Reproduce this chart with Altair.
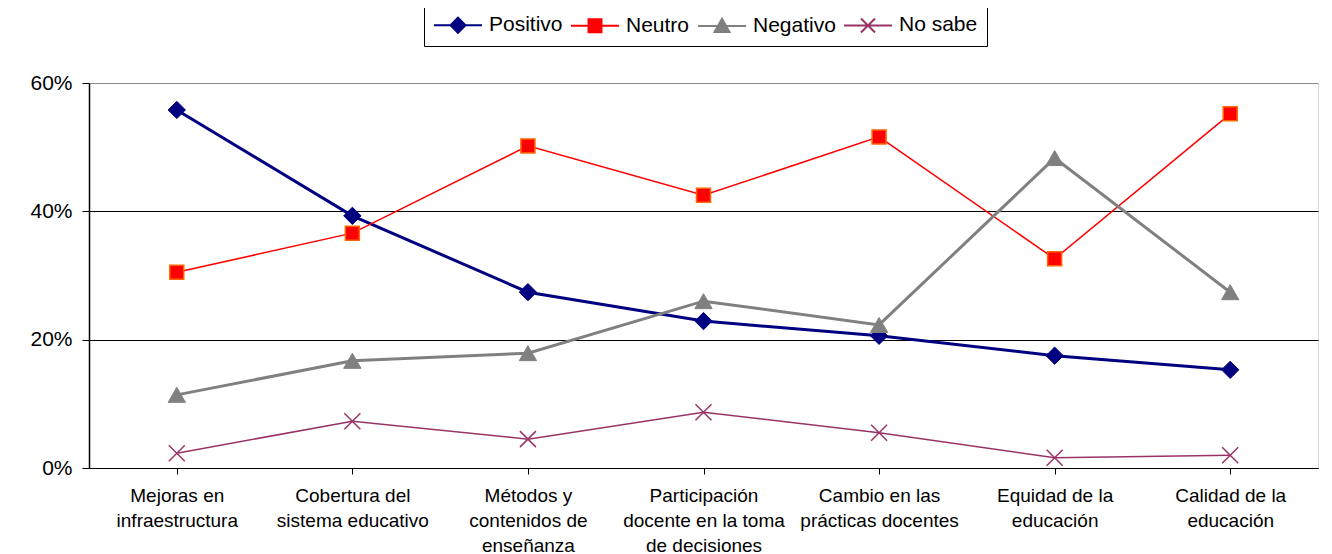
import altair as alt
import pandas as pd

# ---- data ----
categories = [
    "Mejoras en\ninfraestructura",
    "Cobertura del\nsistema educativo",
    "Métodos y\ncontenidos de\nenseñanza",
    "Participación\ndocente en la toma\nde decisiones",
    "Cambio en las\nprácticas docentes",
    "Equidad de la\neducación",
    "Calidad de la\neducación",
]
series_names = ["Positivo", "Neutro", "Negativo", "No sabe"]
positivo = [55.8, 39.3, 27.4, 22.9, 20.6, 17.5, 15.3]
neutro = [30.5, 36.6, 50.2, 42.5, 51.6, 32.6, 55.2]
negativo = [11.4, 16.7, 17.9, 26.0, 22.3, 48.3, 27.4]
no_sabe = [2.3, 7.3, 4.5, 8.7, 5.5, 1.6, 2.0]
y_ticks = [0, 0.2, 0.4, 0.6]

# ---- styles ----
line_colors = ["#000080", "#FF0000", "#808080", "#993366"]
line_widths = [3, 1.5, 3, 1.5]
marker_shapes = ["diamond", "square", "triangle-up", "M-1,-1L1,1M-1,1L1,-1"]
marker_sizes = [300, 196, 300, 256]
marker_fills = ["#000080", "#FF0000", "#808080", "transparent"]
marker_strokes = ["#000080", "#FF6600", "#808080", "#993366"]
marker_stroke_widths = [1, 1.5, 1, 1.5]

# legend symbols: line + marker as custom paths (unit = sqrt(size)/2 = 11 px)
L = 48 / 11.0
cx = -1 + L / 2


def f(v):
    return f"{v:.3f}"


line_part = f"M-1,0L{f(-1 + L)},0"
d = 0.68
sq = 0.59
legend_paths = [
    line_part + f"M{f(cx - d)},0L{f(cx)},{f(-d)}L{f(cx + d)},0L{f(cx)},{f(d)}Z",
    line_part + f"M{f(cx - sq)},{f(-sq)}L{f(cx + sq)},{f(-sq)}L{f(cx + sq)},{f(sq)}L{f(cx - sq)},{f(sq)}Z",
    line_part + f"M{f(cx)},-0.66L{f(cx + d)},0.54L{f(cx - d)},0.54Z",
    line_part + f"M{f(cx - 0.64)},-0.64L{f(cx + 0.64)},0.64M{f(cx - 0.64)},0.64L{f(cx + 0.64)},-0.64",
]
legend_fills = ["#000080", "#FF0000", "#808080", "transparent"]
legend_strokes = ["#000080", "#FF0000", "#808080", "#993366"]

rows = []
for s, vals in zip(series_names, [positivo, neutro, negativo, no_sabe]):
    for c, v in zip(categories, vals):
        rows.append({"category": c, "series": s, "value": v / 100.0})
df = pd.DataFrame(rows)

FONT = "Liberation Sans"

x_enc = alt.X(
    "category:N",
    sort=categories,
    scale=alt.Scale(paddingInner=0, paddingOuter=0),
    axis=alt.Axis(
        title=None,
        labelAngle=0,
        labelExpr="split(datum.label, '\\n')",
        labelFont=FONT,
        labelFontSize=19,
        labelColor="black",
        labelLineHeight=25,
        labelPadding=12,
        labelBaseline="top",
        labelLimit=300,
        bandPosition=0,
        ticks=True,
        tickSize=6,
        tickColor="black",
        domainColor="black",
        domainWidth=1,
        grid=False,
    ),
)
y_enc = alt.Y(
    "value:Q",
    scale=alt.Scale(domain=[0, 0.6], nice=False),
    axis=alt.Axis(
        title=None,
        values=y_ticks,
        format=".0%",
        labelFont=FONT,
        labelFontSize=21,
        labelColor="black",
        labelPadding=10,
        tickSize=7,
        tickColor="black",
        domainColor="black",
        domainWidth=1.5,
        grid=True,
        gridColor={"condition": {"test": "datum.value > 0.5", "value": "#8c8c8c"}, "value": "black"},
        gridWidth=1,
    ),
)

base = alt.Chart(df)
layers = []
for i, s in enumerate(series_names):
    sub = base.transform_filter(alt.datum.series == s)
    layers.append(
        sub.mark_line(color=line_colors[i], strokeWidth=line_widths[i]).encode(x=x_enc, y=y_enc)
    )
for i, s in enumerate(series_names):
    sub = base.transform_filter(alt.datum.series == s)
    filled = marker_fills[i] != "transparent"
    layers.append(
        sub.mark_point(
            shape=marker_shapes[i],
            filled=filled,
            fill=marker_fills[i],
            stroke=marker_strokes[i],
            strokeWidth=marker_stroke_widths[i],
            size=marker_sizes[i],
            opacity=1,
        ).encode(x=x_enc, y=y_enc)
    )

leg = alt.Legend(
    title=None,
    orient="none",
    legendX=335,
    legendY=-79,
    direction="horizontal",
    symbolSize=484,
    symbolOpacity=1,
    symbolStrokeWidth=2,
    labelOffset=32,
    labelFont=FONT,
    labelFontSize=21,
    labelColor="black",
    labelLimit=300,
    columnPadding=4,
    padding=9,
    strokeColor="black",
    fillColor="white",
)
legend_layer = base.mark_point(opacity=0, filled=True, size=484).encode(
    x=x_enc,
    y=y_enc,
    shape=alt.Shape("series:N", sort=series_names,
                    scale=alt.Scale(domain=series_names, range=legend_paths), legend=leg),
    fill=alt.Fill("series:N", sort=series_names,
                  scale=alt.Scale(domain=series_names, range=legend_fills), legend=leg),
    stroke=alt.Stroke("series:N", sort=series_names,
                      scale=alt.Scale(domain=series_names, range=legend_strokes), legend=leg),
)
layers.append(legend_layer)

chart = (
    alt.layer(*layers)
    .properties(
        width=1229,
        height=385,
        autosize=alt.AutoSizeParams(type="none"),
        padding={"left": 81, "top": 75, "right": 4, "bottom": 86},
        background="white",
    )
    .configure_view(fill="#FFFFCC", stroke="#8c8c8c", strokeWidth=1.5)
    .configure(font=FONT)
)

chart.save("out.html", embed_options={"renderer": "svg", "actions": False})
